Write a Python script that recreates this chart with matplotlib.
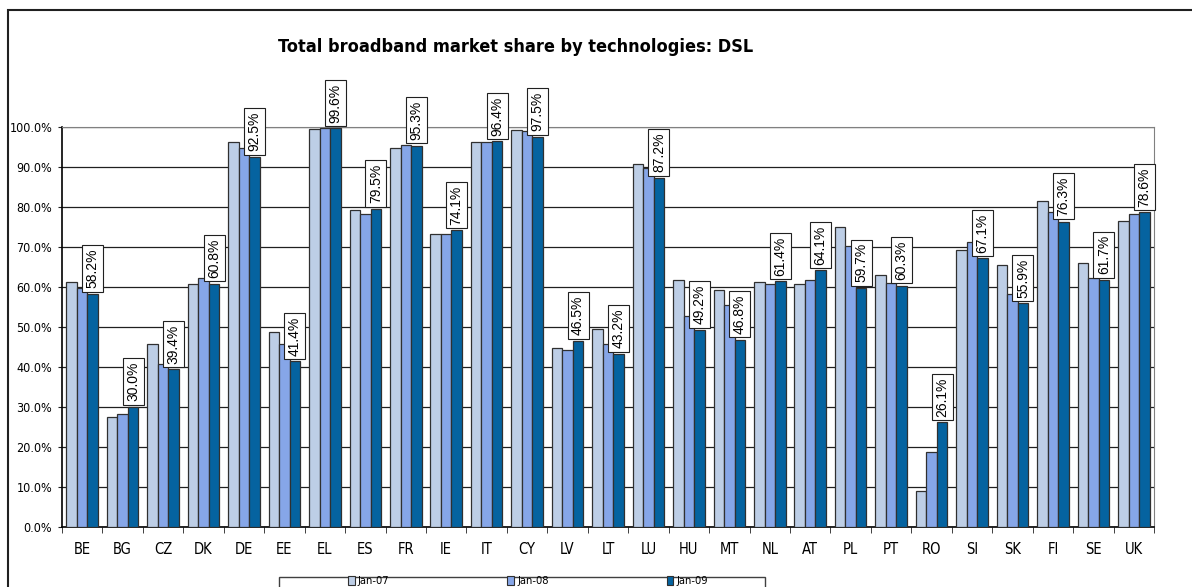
"""DSL share of total broadband lines per country, Jan-07 to Jan-09."""
import numpy as np
import matplotlib.pyplot as plt
from matplotlib.patches import Patch, Rectangle
from matplotlib.ticker import FuncFormatter

plt.rcParams['font.family'] = ['DejaVu Sans']
plt.rcParams['font.stretch'] = 'condensed'

countries = ["BE", "BG", "CZ", "DK", "DE", "EE", "EL", "ES", "FR", "IE", "IT", "CY", "LV", "LT",
             "LU", "HU", "MT", "NL", "AT", "PL", "PT", "RO", "SI", "SK", "FI", "SE", "UK"]
jan07 = [61.2, 27.5, 45.6, 60.7, 96.1, 48.6, 99.4, 79.3, 94.8, 73.3, 96.1, 99.1, 44.6, 49.4,
         90.8, 61.7, 59.2, 61.3, 60.7, 75.0, 62.9, 9.0, 69.3, 65.4, 81.5, 66.0, 76.5]
jan08 = [59.8, 28.2, 40.8, 62.3, 94.8, 45.6, 99.8, 78.3, 95.4, 73.1, 96.3, 99.0, 44.3, 45.6,
         89.8, 52.7, 55.4, 60.7, 61.7, 70.3, 61.0, 18.6, 71.3, 58.3, 78.7, 62.3, 78.3]
jan09 = [58.2, 30.0, 39.4, 60.8, 92.5, 41.4, 99.6, 79.5, 95.3, 74.1, 96.4, 97.5, 46.5, 43.2,
         87.2, 49.2, 46.8, 61.4, 64.1, 59.7, 60.3, 26.1, 67.1, 55.9, 76.3, 61.7, 78.6]
series_names = ["Jan-07", "Jan-08", "Jan-09"]
colors = ["#BDCEE6", "#86A6E8", "#0563A0"]

W, H = 1192, 587
fig = plt.figure(figsize=(W / 100, H / 100), dpi=100)
ax = fig.add_axes([62 / W, (H - 526.7) / H, (1154 - 62) / W, 400 / H])

x = np.arange(len(countries))
bw = 0.26
for i, (vals, name, col) in enumerate(zip([jan07, jan08, jan09], series_names, colors)):
    ax.bar(x + (i - 1) * bw, vals, bw, color=col, edgecolor="#303030", linewidth=0.9,
           label=name, zorder=3)

# value boxes above the latest bars
for xi, v in zip(x, jan09):
    ax.annotate(f"{v:.1f}%", (xi + bw, v), xytext=(0, 4), textcoords="offset points",
                rotation=90, ha="center", va="bottom", fontsize=10,
                family=["Liberation Sans", "DejaVu Sans"], fontstretch="normal",
                annotation_clip=False, zorder=5,
                bbox=dict(boxstyle="square,pad=0.25", fc="white", ec="#202020", lw=0.8))

ax.set_xlim(-0.5, len(countries) - 0.5)
ax.set_ylim(0, 100)
ax.set_yticks(np.arange(0, 101, 10))
ax.yaxis.set_major_formatter(FuncFormatter(lambda v, p: f"{v:.1f}%"))
ax.grid(axis="y", color="#202020", linewidth=0.9, zorder=0)
ax.tick_params(axis="y", length=3, pad=4, labelsize=9, color="#202020")

ax.set_xticks(x)
ax.set_xticklabels(countries)
ax.set_xticks(np.arange(-0.5, len(countries)), minor=True)
ax.tick_params(axis="x", which="major", length=0, pad=11, labelsize=10.5)
ax.tick_params(axis="x", which="minor", length=4, color="#202020")

for side in ["top", "right"]:
    ax.spines[side].set_color("#808080")
ax.spines["left"].set_linewidth(1.2)
ax.spines["bottom"].set_linewidth(1.2)

fig.text(516 / W, 1 - 47 / H, "Total broadband market share by technologies: DSL",
         ha="center", va="center", fontsize=13, fontweight="bold")

# chart border and legend frame
fig.patches.append(Rectangle((8 / W, -0.1), 1.2, 1.1 - 10 / H, transform=fig.transFigure,
                             fill=False, ec="#202020", lw=1.5))
fig.patches.append(Rectangle((279 / W, -0.1), (765 - 279) / W, 0.1 + 1 - 577 / H,
                             transform=fig.transFigure, fill=False, ec="#404040", lw=1.0))

handles = [Patch(fc=c, ec="#303030", lw=0.8) for c in colors]
fig.legend(handles, series_names, loc="center", bbox_to_anchor=(528 / W, 1 - 581 / H),
           ncol=3, frameon=False, fontsize=8, handlelength=0.6, handleheight=0.9,
           handletextpad=0.3, columnspacing=10.6, borderpad=0)

fig.savefig("out.png", dpi=100)
